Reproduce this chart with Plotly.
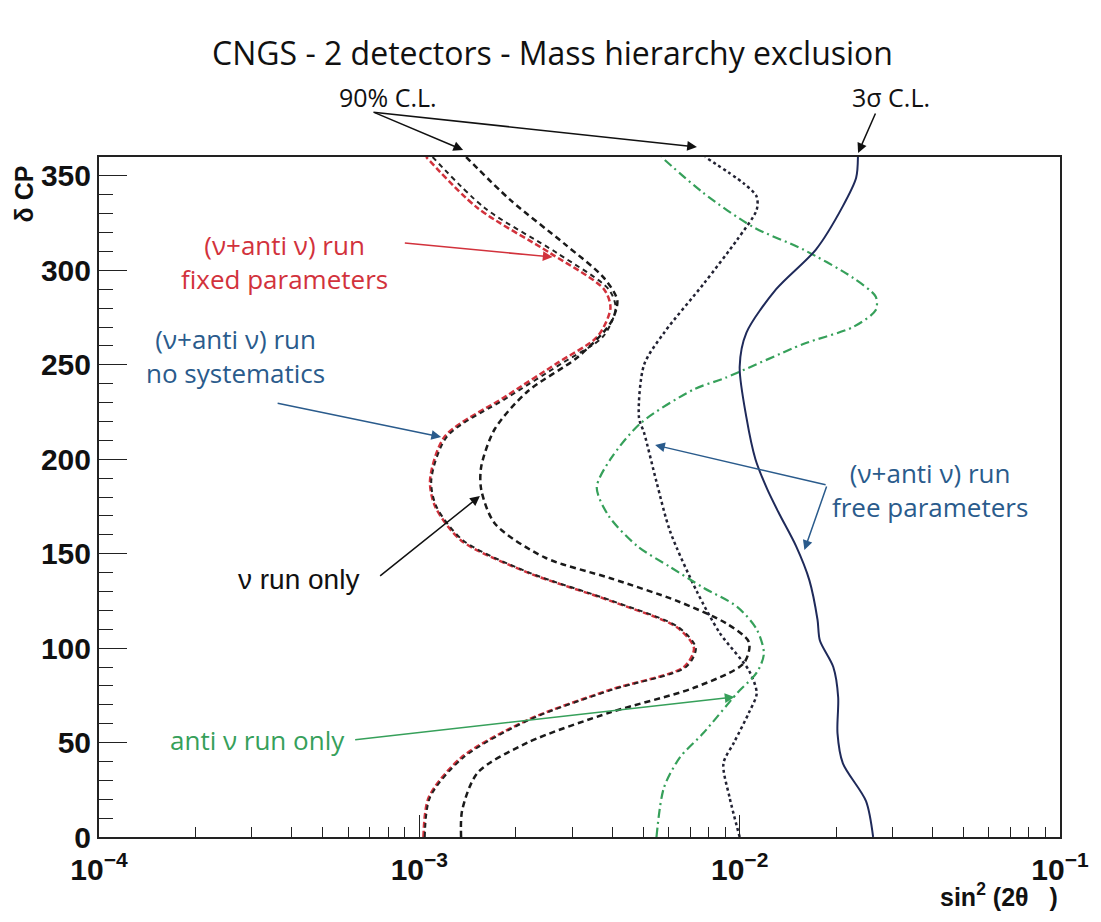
import plotly.graph_objects as go

# ---------------- data ----------------
delta_fix = [0, 21, 42, 62, 78, 90, 100, 111, 125, 140, 157, 175, 189, 212, 233, 251, 265, 280, 290, 309, 333, 360]
x_fix = [1.03e-3, 1.07e-3, 1.35e-3, 2.18e-3, 3.95e-3, 6.7e-3, 7.2e-3, 6.37e-3, 3.95e-3, 2.18e-3, 1.35e-3,
         1.12e-3, 1.08e-3, 1.2e-3, 1.85e-3, 2.7e-3, 3.6e-3, 3.95e-3, 3.77e-3, 2.57e-3, 1.52e-3, 1.05e-3]

delta_nosys = [0, 21, 42, 62, 78, 90, 100, 111, 125, 140, 157, 175, 189, 212, 233, 251, 265, 280, 290, 309, 333, 360]
x_nosys = [1.04e-3, 1.08e-3, 1.37e-3, 2.2e-3, 4.0e-3, 6.8e-3, 7.3e-3, 6.45e-3, 4.0e-3, 2.2e-3, 1.37e-3,
           1.13e-3, 1.09e-3, 1.22e-3, 1.9e-3, 2.8e-3, 3.75e-3, 4.1e-3, 3.9e-3, 2.7e-3, 1.6e-3, 1.1e-3]

delta_nu = [0, 14, 34, 50, 66, 79, 92, 103, 113, 125, 137, 148, 166, 184, 196, 216, 236, 254, 272, 284, 296, 314, 337, 360]
x_nu = [1.35e-3, 1.36e-3, 1.52e-3, 2.18e-3, 3.95e-3, 7.2e-3, 1.03e-2, 1.07e-2, 9.1e-3, 6.37e-3, 3.95e-3, 2.46e-3,
        1.72e-3, 1.56e-3, 1.56e-3, 1.72e-3, 2.18e-3, 3.12e-3, 3.95e-3, 4.15e-3, 3.77e-3, 2.84e-3, 1.93e-3, 1.4e-3]

delta_free90 = [0, 21, 39, 50, 66, 76, 88, 108, 130, 162, 188, 214, 222, 250, 267, 293, 316, 332, 339, 346, 360]
x_free90 = [1.0e-2, 9.3e-3, 8.9e-3, 9.6e-3, 1.07e-2, 1.13e-2, 1.07e-2, 8.67e-3, 7.35e-3, 6.06e-3, 5.5e-3,
            5.03e-3, 4.85e-3, 5.03e-3, 5.81e-3, 7.73e-3, 9.8e-3, 1.13e-2, 1.13e-2, 1.03e-2, 7.8e-3]

delta_anti = [0, 26, 42, 55, 76, 87, 97, 110, 122, 132, 143, 154, 170, 185, 200, 219, 237, 243, 261, 270, 279,
              286, 296, 311, 323, 341, 360]
x_anti = [5.5e-3, 5.8e-3, 6.5e-3, 7.7e-3, 9.8e-3, 1.13e-2, 1.19e-2, 1.13e-2, 9.8e-3, 7.7e-3, 6.06e-3, 4.79e-3,
          3.9e-3, 3.58e-3, 3.95e-3, 4.9e-3, 7.2e-3, 9.0e-3, 1.58e-2, 2.26e-2, 2.66e-2, 2.66e-2, 2.26e-2,
          1.58e-2, 1.1e-2, 7.7e-3, 5.7e-3]

delta_3s = [0, 19, 39, 55, 74, 90, 104, 115, 136, 154, 171, 184, 200, 222, 249, 267, 290, 311, 334, 349, 360]
x_3s = [2.61e-2, 2.48e-2, 2.1e-2, 2.02e-2, 2.03e-2, 1.96e-2, 1.78e-2, 1.75e-2, 1.65e-2, 1.5e-2, 1.33e-2,
        1.22e-2, 1.12e-2, 1.05e-2, 1.0e-2, 1.05e-2, 1.3e-2, 1.73e-2, 2.1e-2, 2.31e-2, 2.34e-2]

y_ticks = [0, 50, 100, 150, 200, 250, 300, 350]

# ---------------- styles ----------------
RED = "#d2323c"
BLUE = "#2a5b8c"
GREEN = "#36a05a"
NAVY = "#1f2a5a"
TXT = "Open Sans"

fig = go.Figure()

def add(xv, yv, color, dash, width):
    fig.add_trace(go.Scatter(x=xv, y=yv, mode="lines", showlegend=False,
                             line=dict(color=color, dash=dash, width=width, shape="spline", smoothing=0.8)))

add(x_fix, delta_fix, RED, "6px,3px", 2.5)
add(x_nosys, delta_nosys, "#222222", "5px,4px", 2)
add(x_nu, delta_nu, "#1a1a1a", "6px,4px", 2.5)
add(x_free90, delta_free90, "#222233", "3px,3px", 2.5)
add(x_anti, delta_anti, GREEN, "9px,4px,2px,4px", 2.2)
add(x_3s, delta_3s, NAVY, "solid", 2)

# ---------------- annotations ----------------
ann = []

def text(t, x, y, color, size, family=TXT, weight="normal"):
    ann.append(dict(text=t, x=x, y=y, xref="paper", yref="paper", showarrow=False,
                    font=dict(color=color, size=size, family=family, weight=weight),
                    xanchor="center", yanchor="middle", align="center"))

def arrow(tail, tip, color, head=2, size=1.3, width=1.5):
    ann.append(dict(text="", x=tip[0], y=tip[1], ax=tail[0], ay=tail[1], xref="x", yref="y",
                    axref="x", ayref="y", showarrow=True, arrowhead=head, arrowsize=size,
                    arrowwidth=width, arrowcolor=color, standoff=0, startstandoff=0))

def arrow_paper(tip, dx, dy, color, head=2, size=1.3, width=1.5):
    ann.append(dict(text="", x=tip[0], y=tip[1], ax=dx, ay=dy, xref="paper", yref="paper",
                    axref="pixel", ayref="pixel", showarrow=True, arrowhead=head, arrowsize=size,
                    arrowwidth=width, arrowcolor=color, standoff=0, startstandoff=0))

text("CNGS - 2 detectors - Mass hierarchy exclusion", 0.472, 1.154, "#111111", 32)
text("90% C.L.", 0.301, 1.088, "#111111", 25)
text("3σ C.L.", 0.824, 1.088, "#111111", 25)
text("(ν+anti ν) run<br>fixed parameters", 0.193, 0.846, RED, 26)
text("(ν+anti ν) run<br>no systematics", 0.142, 0.707, BLUE, 26)
text("ν run only", 0.208, 0.378, "#111111", 28, family="Liberation Sans")
text("anti ν run only", 0.165, 0.143, GREEN, 26)
text("(ν+anti ν) run<br>free parameters", 0.865, 0.510, BLUE, 26)

# arrows above the frame (paper tip, pixel offset of the tail)
arrow_paper((0.3789, 1.0103), -90, -38, "#111111")
arrow_paper((0.6222, 1.0147), -325, -35, "#111111")
arrow_paper((0.7899, 1.0059), 18, -41, "#111111")

# arrows inside the frame: (log10 x, delta)
arrow((-3.050, 314.5), (-2.584, 307.0), RED)
arrow((-3.447, 229.8), (-2.932, 211.8), BLUE)
arrow((-3.127, 137.6), (-2.811, 180.5), "#111111")
arrow((-3.205, 51.4), (-2.016, 74.1), GREEN)
arrow((-1.727, 186.3), (-2.264, 207.5), BLUE)
arrow((-1.727, 186.3), (-1.798, 151.9), BLUE)

# axis titles
ann.append(dict(text="sin<sup>2</sup> (2θ\u00a0\u00a0\u00a0)", x=1.0, y=-0.085, xref="paper", yref="paper",
                showarrow=False, xanchor="right", yanchor="middle",
                font=dict(size=25, family="Liberation Sans", weight="bold", color="#111111")))
ann.append(dict(text="δ CP", x=-0.078, y=0.945, xref="paper", yref="paper", showarrow=False,
                textangle=-90, xanchor="center", yanchor="middle",
                font=dict(size=25, family="Liberation Sans", weight="bold", color="#111111")))

fig.update_layout(
    width=1101, height=922,
    margin=dict(l=99, r=36, t=157, b=85),
    paper_bgcolor="white", plot_bgcolor="white",
    annotations=ann,
    xaxis=dict(type="log", range=[-4, -1], dtick=1, exponentformat="power",
               showgrid=False, zeroline=False, showline=True, mirror=True,
               linecolor="#222222", linewidth=2,
               ticks="inside", ticklen=22, tickwidth=1.3, tickcolor="#222222",
               ticklabelstandoff=6,
               minor=dict(dtick="D1", ticks="inside", ticklen=10, tickwidth=1.2, tickcolor="#222222",
                          showgrid=False),
               tickfont=dict(family="Liberation Sans", size=24, weight="bold", color="#111111")),
    yaxis=dict(range=[0, 360], tickvals=y_ticks, showgrid=False, zeroline=False,
               showline=True, mirror=True, linecolor="#222222", linewidth=2,
               ticks="inside", ticklen=28, tickwidth=1.3, tickcolor="#222222",
               minor=dict(dtick=10, ticks="inside", ticklen=14, tickwidth=1.2, tickcolor="#222222",
                          showgrid=False),
               tickfont=dict(family="Liberation Sans", size=30, weight="bold", color="#111111")),
)

fig.write_html("out.html")
